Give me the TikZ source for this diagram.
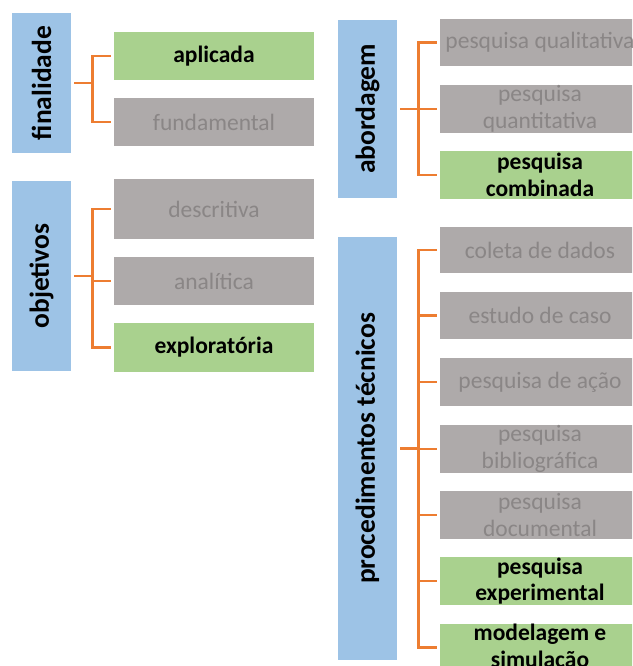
\documentclass[tikz,border=0pt]{standalone}
\usepackage{fontspec}
\setmainfont{Carlito}
\definecolor{catblue}{HTML}{9DC3E6}
\definecolor{selgreen}{HTML}{A9D18E}
\definecolor{optgray}{HTML}{AEAAAA}
\definecolor{opttext}{HTML}{8A8686}
\definecolor{linkorange}{HTML}{ED7D31}
\tikzset{
  category/.style={fill=catblue, inner sep=0pt, minimum width=59pt},
  catlabel/.style={rotate=90, inner sep=0pt, font=\fontsize{27.5}{30}\selectfont\bfseries},
  option/.style={inner sep=0pt, minimum width=200pt, align=center,
    font=\fontsize{23.5}{26.7}\selectfont},
  chosen/.style={option, fill=selgreen, text=black, font=\fontsize{23.5}{26.7}\selectfont\bfseries},
  other/.style={option, fill=optgray, text=opttext},
  conn/.style={draw=linkorange, line width=2.6pt}
}
\begin{document}
\begin{tikzpicture}[x=1pt, y=-1pt]
\clip (0,0) rectangle (632,666);
\fill[white] (0,0) rectangle (632,666);

% category boxes with vertical labels
\node[category, minimum height=140pt] (fin) at (41.5,83) {};
\node[catlabel] (finl) at (fin.center) {finalidade};
\node[category, minimum height=190pt] (obj) at (41.5,276) {};
\node[catlabel] (objl) at (obj.center) {objetivos};
\node[category, minimum height=178pt] (abo) at (367.5,109) {};
\node[catlabel] (abol) at (abo.center) {abordagem};
\node[category, minimum height=423pt] (proc) at (367.5,448.5) {};
\node[catlabel] (procl) at (proc.center) {procedimentos técnicos};

% options of "finalidade"
\node[chosen, minimum height=48pt] (ap) at (214,56) {aplicada};
\node[other, minimum height=48pt] (fu) at (214,122) {fundamental};

% options of "objetivos"
\node[other, minimum height=60pt] (de) at (214,209) {descritiva};
\node[other, minimum height=48pt] (an) at (214,281) {analítica};
\node[chosen, minimum height=49pt] (ex) at (214,347.5) {exploratória};

% options of "abordagem"
\node[other, minimum height=47pt] (ql) at (540,42.5) {pesquisa qualitativa};
\node[other, minimum height=48pt] (qt) at (540,109) {pesquisa\\quantitativa};
\node[chosen, minimum height=48pt] (cb) at (540,175) {pesquisa\\combinada};

% options of "procedimentos técnicos"
\node[other, minimum height=46pt] (co) at (540,250) {coleta de dados};
\node[other, minimum height=47pt] (es) at (540,315.5) {estudo de caso};
\node[other, minimum height=48pt] (ac) at (540,382) {pesquisa de ação};
\node[other, minimum height=48pt] (bi) at (540,449) {pesquisa\\bibliográfica};
\node[other, minimum height=48pt] (dc) at (540,515) {pesquisa\\documental};
\node[chosen, minimum height=48pt] (xp) at (540,581) {pesquisa\\experimental};
\node[chosen, minimum height=48pt] (mo) at (540,647.5) {modelagem e\\simulação};

% bracket connectors: stem from the category, branch to every option
\foreach \p/\kids in {fin/{ap,fu}, obj/{de,an,ex}, abo/{ql,qt,cb},
                      proc/{co,es,ac,bi,dc,xp,mo}} {
  \draw[conn] ([xshift=3pt]\p.east) -- ([xshift=21pt]\p.east);
  \foreach \k in \kids {
    \draw[conn] ([xshift=-3pt]\k.west) -| ([xshift=21pt]\p.east);
  }
}
\end{tikzpicture}
\end{document}
